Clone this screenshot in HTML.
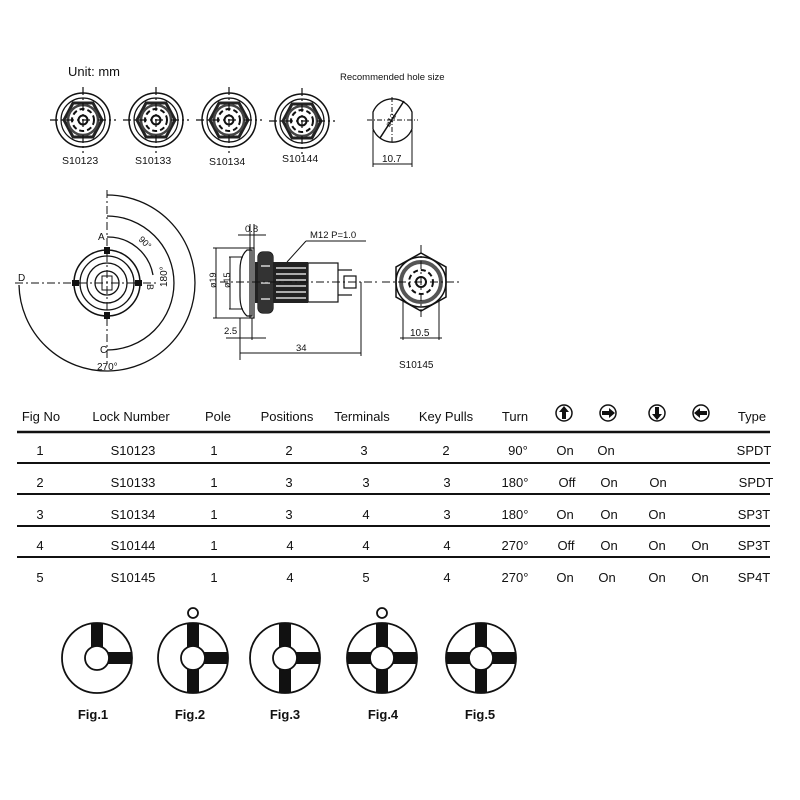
<!DOCTYPE html>
<html><head><meta charset="utf-8"><style>
html,body{margin:0;padding:0;background:#fff;}
svg{display:block;}
text{font-family:"Liberation Sans",sans-serif;fill:#111;}
</style></head><body>
<svg width="800" height="800" viewBox="0 0 800 800" xmlns="http://www.w3.org/2000/svg">
<defs>
<g id="sw">
  <circle r="27" fill="none" stroke="#111" stroke-width="1.5"/>
  <circle r="22" fill="none" stroke="#111" stroke-width="1.2"/>
  <polygon points="-19,0 -10,-17 10,-17 19,0 10,17 -10,17" fill="none" stroke="#222" stroke-width="3"/>
  <circle r="15" fill="none" stroke="#444" stroke-width="2.5"/>
  <circle r="11" fill="none" stroke="#111" stroke-width="2" stroke-dasharray="5 3"/>
  <circle r="4.5" fill="none" stroke="#111" stroke-width="2"/>
  <line x1="-33" y1="0" x2="33" y2="0" stroke="#111" stroke-width="1.2" stroke-dasharray="8 3 2 3"/>
  <line x1="0" y1="-33" x2="0" y2="33" stroke="#111" stroke-width="1.2" stroke-dasharray="8 3 2 3"/>
</g>
<g id="ring">
  <circle r="35" fill="#fff" stroke="#111" stroke-width="1.8"/>
</g>
</defs>

<!-- top section -->
<text x="68" y="76" font-size="13">Unit:  mm</text>
<text x="340" y="80" font-size="9.5">Recommended  hole  size</text>
<use href="#sw" x="83" y="120"/>
<use href="#sw" x="156" y="120"/>
<use href="#sw" x="229" y="120"/>
<use href="#sw" x="302" y="121"/>
<text x="62" y="164" font-size="10.5">S10123</text>
<text x="135" y="164" font-size="10.5">S10133</text>
<text x="209" y="165" font-size="10.5">S10134</text>
<text x="282" y="162" font-size="10.5">S10144</text>

<!-- hole -->
<path d="M373,112 A21,21 0 0 1 412,112 L412,129 A21,21 0 0 1 373,129 Z" fill="none" stroke="#111" stroke-width="1.3"/>
<line x1="367" y1="120" x2="418" y2="120" stroke="#111" stroke-dasharray="5 2 1 2"/>
<line x1="392" y1="97" x2="392" y2="143" stroke="#111" stroke-dasharray="5 2 1 2"/>
<line x1="380" y1="138" x2="404" y2="101" stroke="#111" stroke-width="1.5"/>
<text x="384" y="126" font-size="8" transform="rotate(-60 388 122)">ø12</text>
<line x1="373" y1="130" x2="373" y2="167" stroke="#111"/>
<line x1="412" y1="130" x2="412" y2="167" stroke="#111"/>
<line x1="373" y1="164" x2="412" y2="164" stroke="#111"/>
<text x="382" y="162" font-size="10">10.7</text>

<!-- front view with arcs -->
<g stroke="#111" fill="none">
  <circle cx="107" cy="283" r="33" stroke-width="1.5"/>
  <circle cx="107" cy="283" r="27" stroke-width="1.3"/>
  <circle cx="107" cy="283" r="20" stroke-width="1.3"/>
  <circle cx="107" cy="283" r="12" stroke-width="1.3"/>
  <line x1="107" y1="190" x2="107" y2="365" stroke-dasharray="8 3 2 3"/>
  <line x1="15" y1="283" x2="158" y2="283" stroke-dasharray="8 3 2 3"/>
  <path d="M107,237 A46,46 0 0 1 153,275" stroke-width="1.3"/>
  <path d="M107,216 A67,67 0 0 1 107,350" stroke-width="1.3"/>
  <path d="M107,195 A88,88 0 1 1 19,285" stroke-width="1.3"/>
  <rect x="102" y="276" width="10" height="14" stroke-width="1"/>
</g>
<g fill="#111">
  <rect x="104" y="247" width="6" height="7"/><rect x="104" y="312" width="6" height="7"/>
  <rect x="72" y="280" width="7" height="6"/><rect x="135" y="280" width="7" height="6"/>
</g>
<text x="98" y="240" font-size="10">A</text>
<text x="100" y="353" font-size="10">C</text>
<text x="18" y="281" font-size="10">D</text>
<text x="147" y="292" font-size="9" transform="rotate(90 151 288)">B</text>
<text x="138" y="244" font-size="9" transform="rotate(45 143 242)">90°</text>
<text x="160" y="284" font-size="10" transform="rotate(-90 165 282)">180°</text>
<text x="97" y="370" font-size="10">270°</text>

<!-- side view -->
<g stroke="#111" fill="none" stroke-width="1.2">
  <path d="M252,250 L247,250 Q240,256 240,270 L240,296 Q240,310 247,316 L252,316 Z"/>
  <rect x="250" y="248" width="4" height="70"/>
  <rect x="258" y="252" width="15" height="61" rx="5"/>
  <rect x="308" y="263" width="30" height="39"/>
  <line x1="338" y1="270" x2="352" y2="270"/><line x1="338" y1="295" x2="352" y2="295"/>
  <rect x="344" y="276" width="12" height="12"/>
  <line x1="210" y1="176" x2="210" y2="176"/>
</g>
<rect x="255" y="262" width="53" height="41" fill="#222"/>
<rect x="258" y="252" width="15" height="61" rx="5" fill="#333"/>
<g stroke="#fff" stroke-width="1.2">
  <line x1="276" y1="268" x2="306" y2="268"/><line x1="276" y1="274" x2="306" y2="274"/>
  <line x1="276" y1="280" x2="306" y2="280"/><line x1="276" y1="286" x2="306" y2="286"/>
  <line x1="276" y1="292" x2="306" y2="292"/><line x1="276" y1="298" x2="306" y2="298"/>
  <line x1="261" y1="266" x2="270" y2="266"/><line x1="261" y1="283" x2="270" y2="283"/><line x1="261" y1="299" x2="270" y2="299"/>
</g>
<g stroke="#111" fill="none" stroke-width="1">
  <line x1="220" y1="282" x2="380" y2="282" stroke-dasharray="8 3 2 3"/>
  <line x1="213" y1="248" x2="250" y2="248"/><line x1="213" y1="318" x2="250" y2="318"/>
  <line x1="216" y1="248" x2="216" y2="318"/>
  <line x1="229" y1="257" x2="243" y2="257"/><line x1="229" y1="309" x2="243" y2="309"/>
  <line x1="230" y1="257" x2="230" y2="309"/>
  <line x1="250" y1="224" x2="250" y2="248"/><line x1="254" y1="224" x2="254" y2="248"/>
  <line x1="238" y1="235" x2="266" y2="235"/>
  <line x1="240" y1="318" x2="240" y2="360"/><line x1="252" y1="318" x2="252" y2="340"/>
  <line x1="226" y1="338" x2="266" y2="338"/>
  <line x1="361" y1="282" x2="361" y2="356"/>
  <line x1="240" y1="353" x2="361" y2="353"/>
  <line x1="287" y1="262" x2="306" y2="241"/><line x1="306" y1="241" x2="366" y2="241"/>
</g>
<text x="245" y="232" font-size="9.5">0.8</text>
<text x="310" y="238" font-size="9.5">M12  P=1.0</text>
<text x="212" y="292" font-size="9" transform="rotate(-90 212 288)">ø19</text>
<text x="226" y="292" font-size="9" transform="rotate(-90 226 288)">ø15</text>
<text x="224" y="334" font-size="9.5">2.5</text>
<text x="296" y="351" font-size="9.5">34</text>

<!-- hex view -->
<g stroke="#111" fill="none">
  <polygon points="421,253 446,267 446,297 421,311 396,297 396,267" stroke-width="1.5"/>
  <circle cx="421" cy="282" r="25" stroke-width="1.5"/>
  <circle cx="421" cy="282" r="20" stroke="#555" stroke-width="4"/>
  <circle cx="421" cy="282" r="12" stroke-width="2" stroke-dasharray="5 3"/>
  <circle cx="421" cy="282" r="5" stroke-width="2"/>
  <line x1="382" y1="282" x2="460" y2="282" stroke-dasharray="8 3 2 3"/>
  <line x1="421" y1="245" x2="421" y2="320" stroke-dasharray="8 3 2 3"/>
  <line x1="403" y1="300" x2="403" y2="340"/><line x1="439" y1="300" x2="439" y2="340"/>
  <line x1="400" y1="338" x2="442" y2="338"/>
</g>
<text x="410" y="336" font-size="10">10.5</text>
<text x="399" y="368" font-size="10">S10145</text>

<!-- table -->
<g font-size="13" text-anchor="middle">
  <text x="41" y="421">Fig No</text>
  <text x="131" y="421">Lock Number</text>
  <text x="218" y="421">Pole</text>
  <text x="287" y="421">Positions</text>
  <text x="362" y="421">Terminals</text>
  <text x="446" y="421">Key Pulls</text>
  <text x="515" y="421">Turn</text>
  <text x="752" y="421">Type</text>
</g>
<g stroke="#111" stroke-width="1.5" fill="none">
  <circle cx="564" cy="413" r="8"/><circle cx="608" cy="413" r="8"/><circle cx="657" cy="413" r="8"/><circle cx="701" cy="413" r="8"/>
</g>
<g fill="#111">
  <path d="M564,406 L569,412 L566,412 L566,419 L562,419 L562,412 L559,412 Z"/>
  <path d="M615,413 L609,418 L609,415 L602,415 L602,411 L609,411 L609,408 Z"/>
  <path d="M657,420 L662,414 L659,414 L659,407 L655,407 L655,414 L652,414 Z"/>
  <path d="M694,413 L700,408 L700,411 L707,411 L707,415 L700,415 L700,418 Z"/>
</g>
<g stroke="#111">
  <line x1="17" y1="432" x2="770" y2="432" stroke-width="2.5"/>
  <line x1="17" y1="463" x2="770" y2="463" stroke-width="2"/>
  <line x1="17" y1="494" x2="770" y2="494" stroke-width="2"/>
  <line x1="17" y1="526" x2="770" y2="526" stroke-width="2"/>
  <line x1="17" y1="557" x2="770" y2="557" stroke-width="2"/>
</g>
<g font-size="13" text-anchor="middle">
  <text x="40" y="455">1</text><text x="133" y="455">S10123</text><text x="214" y="455">1</text><text x="289" y="455">2</text><text x="364" y="455">3</text><text x="446" y="455">2</text><text x="518" y="455">90°</text><text x="565" y="455">On</text><text x="606" y="455">On</text><text x="754" y="455">SPDT</text>
  <text x="40" y="487">2</text><text x="133" y="487">S10133</text><text x="214" y="487">1</text><text x="289" y="487">3</text><text x="366" y="487">3</text><text x="447" y="487">3</text><text x="515" y="487">180°</text><text x="567" y="487">Off</text><text x="609" y="487">On</text><text x="658" y="487">On</text><text x="756" y="487">SPDT</text>
  <text x="40" y="519">3</text><text x="133" y="519">S10134</text><text x="214" y="519">1</text><text x="289" y="519">3</text><text x="366" y="519">4</text><text x="447" y="519">3</text><text x="515" y="519">180°</text><text x="565" y="519">On</text><text x="609" y="519">On</text><text x="657" y="519">On</text><text x="754" y="519">SP3T</text>
  <text x="40" y="550">4</text><text x="133" y="550">S10144</text><text x="214" y="550">1</text><text x="290" y="550">4</text><text x="366" y="550">4</text><text x="447" y="550">4</text><text x="515" y="550">270°</text><text x="566" y="550">Off</text><text x="609" y="550">On</text><text x="657" y="550">On</text><text x="700" y="550">On</text><text x="754" y="550">SP3T</text>
  <text x="40" y="582">5</text><text x="133" y="582">S10145</text><text x="214" y="582">1</text><text x="290" y="582">4</text><text x="366" y="582">5</text><text x="447" y="582">4</text><text x="515" y="582">270°</text><text x="565" y="582">On</text><text x="607" y="582">On</text><text x="657" y="582">On</text><text x="700" y="582">On</text><text x="754" y="582">SP4T</text>
</g>

<!-- figures -->
<g fill="#111">
  <!-- Fig1 -->
  <use href="#ring" x="97" y="658"/>
  <rect x="91" y="623" width="12" height="35"/><rect x="97" y="652" width="35" height="12"/>
  <!-- Fig2 -->
  <use href="#ring" x="193" y="658"/>
  <rect x="187" y="623" width="12" height="70"/><rect x="193" y="652" width="35" height="12"/>
  <!-- Fig3 -->
  <use href="#ring" x="285" y="658"/>
  <rect x="279" y="623" width="12" height="70"/><rect x="285" y="652" width="35" height="12"/>
  <!-- Fig4 -->
  <use href="#ring" x="382" y="658"/>
  <rect x="376" y="623" width="12" height="70"/><rect x="347" y="652" width="70" height="12"/>
  <!-- Fig5 -->
  <use href="#ring" x="481" y="658"/>
  <rect x="475" y="623" width="12" height="70"/><rect x="446" y="652" width="70" height="12"/>
</g>
<g fill="#fff" stroke="#111" stroke-width="1.8">
  <circle cx="97" cy="658" r="12"/><circle cx="193" cy="658" r="12"/><circle cx="285" cy="658" r="12"/><circle cx="382" cy="658" r="12"/><circle cx="481" cy="658" r="12"/>
  <circle cx="193" cy="613" r="5"/><circle cx="382" cy="613" r="5"/>
</g>
<g font-size="13" font-weight="bold" text-anchor="middle">
  <text x="93" y="719">Fig.1</text><text x="190" y="719">Fig.2</text><text x="285" y="719">Fig.3</text><text x="383" y="719">Fig.4</text><text x="480" y="719">Fig.5</text>
</g>
</svg>
</body></html>
